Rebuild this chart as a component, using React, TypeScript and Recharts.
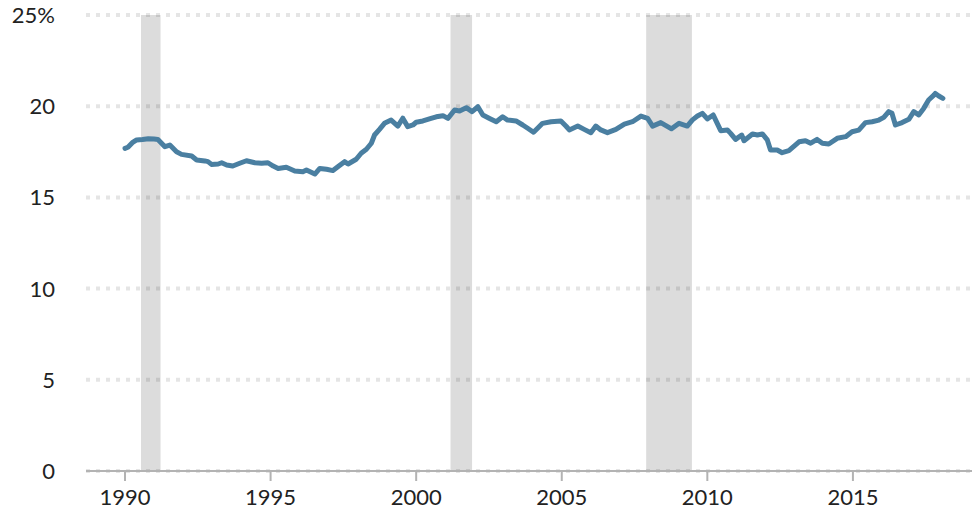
import { Line, LineChart, ReferenceArea, ReferenceLine, XAxis, YAxis } from "recharts"

// decimal years
const years = [
  1990.0, 1990.1, 1990.25, 1990.4, 1990.6, 1990.8, 1991.0, 1991.13, 1991.37, 1991.54, 1991.77, 1991.94,
  1992.29, 1992.46, 1992.74, 1992.85, 1992.97, 1993.2, 1993.32, 1993.49, 1993.7, 1993.94,
  1994.17, 1994.46, 1994.69, 1994.91, 1995.09, 1995.26, 1995.54, 1995.83, 1996.11, 1996.23,
  1996.52, 1996.69, 1996.92, 1997.14, 1997.31, 1997.54, 1997.66, 1997.94, 1998.11, 1998.29,
  1998.46, 1998.57, 1998.74, 1998.91, 1999.14, 1999.37, 1999.54, 1999.71, 1999.89, 2000.0,
  2000.23, 2000.51, 2000.69, 2000.92, 2001.09, 2001.32, 2001.49, 2001.72, 2001.92, 2002.12,
  2002.29, 2002.52, 2002.75, 2002.97, 2003.14, 2003.43, 2003.66, 2003.83, 2004.03, 2004.17,
  2004.34, 2004.63, 2004.97, 2005.15, 2005.26, 2005.55, 2005.77, 2006.0, 2006.17, 2006.34,
  2006.57, 2006.86, 2007.15, 2007.43, 2007.72, 2007.95, 2008.12, 2008.4, 2008.77, 2009.03,
  2009.31, 2009.49, 2009.66, 2009.83, 2010.0, 2010.2, 2010.46, 2010.69, 2010.8, 2010.97,
  2011.18, 2011.26, 2011.55, 2011.72, 2011.89, 2012.06, 2012.17, 2012.4, 2012.57, 2012.8,
  2013.15, 2013.37, 2013.55, 2013.77, 2013.95, 2014.17, 2014.46, 2014.75, 2014.97, 2015.2,
  2015.43, 2015.66, 2015.89, 2016.06, 2016.23, 2016.34, 2016.46, 2016.69, 2016.92, 2017.09,
  2017.26, 2017.43, 2017.6, 2017.78, 2017.83, 2017.95, 2018.09,
]

const share = [
  17.69, 17.75, 18.0, 18.15, 18.18, 18.22, 18.2, 18.18, 17.78, 17.87, 17.5, 17.36,
  17.27, 17.05, 17.0, 16.96, 16.81, 16.83, 16.9, 16.78, 16.72, 16.87,
  17.01, 16.9, 16.87, 16.9, 16.72, 16.59, 16.65, 16.45, 16.41, 16.5,
  16.28, 16.59, 16.54, 16.47, 16.68, 16.96, 16.83, 17.09, 17.42, 17.64,
  17.97, 18.42, 18.73, 19.06, 19.24, 18.91, 19.34, 18.88, 18.97, 19.12,
  19.19, 19.33, 19.42, 19.48, 19.33, 19.79, 19.74, 19.92, 19.7, 19.97,
  19.52, 19.33, 19.15, 19.42, 19.24, 19.19, 18.97, 18.79, 18.57, 18.79,
  19.06, 19.15, 19.19, 18.9, 18.7, 18.91, 18.73, 18.55, 18.91, 18.7,
  18.55, 18.73, 19.02, 19.15, 19.46, 19.33, 18.91, 19.1, 18.76, 19.06,
  18.91, 19.25, 19.46, 19.61, 19.3, 19.52, 18.66, 18.69, 18.51, 18.18,
  18.42, 18.11, 18.48, 18.42, 18.48, 18.15, 17.6, 17.6, 17.45, 17.56,
  18.05, 18.11, 17.97, 18.18, 17.97, 17.93, 18.24, 18.33, 18.6, 18.69,
  19.1, 19.15, 19.24, 19.39, 19.7, 19.61, 18.97, 19.1, 19.28, 19.7,
  19.52, 19.88, 20.34, 20.61, 20.7, 20.56, 20.43,
]

// recessions (start, end)
const recessions = [
  [1990.55, 1991.22],
  [2001.18, 2001.92],
  [2007.9, 2009.47],
]

const xTicks = [1990, 1995, 2000, 2005, 2010, 2015]
const yTicks = [0, 5, 10, 15, 20, 25]

const data = years.map((year, i) => ({ year, share: share[i] }))

const font = "Lato, 'Open Sans', sans-serif"

const YTick = (props: any) => {
  const { y, payload } = props
  return (
    <text x={55} y={y + 8} textAnchor="end" fontSize={22} fontFamily={font} fill="#222">
      {payload.value === 25 ? "25%" : payload.value}
    </text>
  )
}

const XTick = (props: any) => {
  const { x, payload } = props
  return (
    <text x={x} y={505} textAnchor="middle" fontSize={22} fontFamily={font} fill="#222">
      {payload.value}
    </text>
  )
}

const App = () => {
  return (
    <div style={{ position: "absolute", left: 0, top: 0, background: "#fff" }}>
      <LineChart width={972} height={510} data={data} margin={{ top: 15, right: 0, bottom: 0, left: 0 }}>
        <XAxis
          type="number"
          dataKey="year"
          domain={[1988.66, 2019.09]}
          ticks={xTicks}
          allowDataOverflow
          height={39}
          axisLine={{ stroke: "#b3b3b3", strokeWidth: 2 }}
          tickLine={{ stroke: "#b3b3b3", strokeWidth: 2 }}
          tickSize={10}
          tick={<XTick />}
        />
        <YAxis
          type="number"
          domain={[0, 25]}
          ticks={yTicks}
          width={86}
          axisLine={false}
          tickLine={false}
          tick={<YTick />}
        />
        {recessions.map(([a, b]) => (
          <ReferenceArea key={a} x1={a} x2={b} y1={0} y2={25} fill="#dcdcdc" fillOpacity={1} stroke="none" />
        ))}
        {yTicks.map((t) => (
          <ReferenceLine
            key={t}
            y={t}
            stroke="#000"
            strokeOpacity={0.1}
            strokeWidth={4}
            strokeDasharray="4 6"
          />
        ))}
        <Line
          type="linear"
          dataKey="share"
          stroke="#4a7fa1"
          strokeWidth={5}
          strokeLinejoin="round"
          strokeLinecap="round"
          dot={false}
          isAnimationActive={false}
        />
      </LineChart>
    </div>
  )
}

export default App
